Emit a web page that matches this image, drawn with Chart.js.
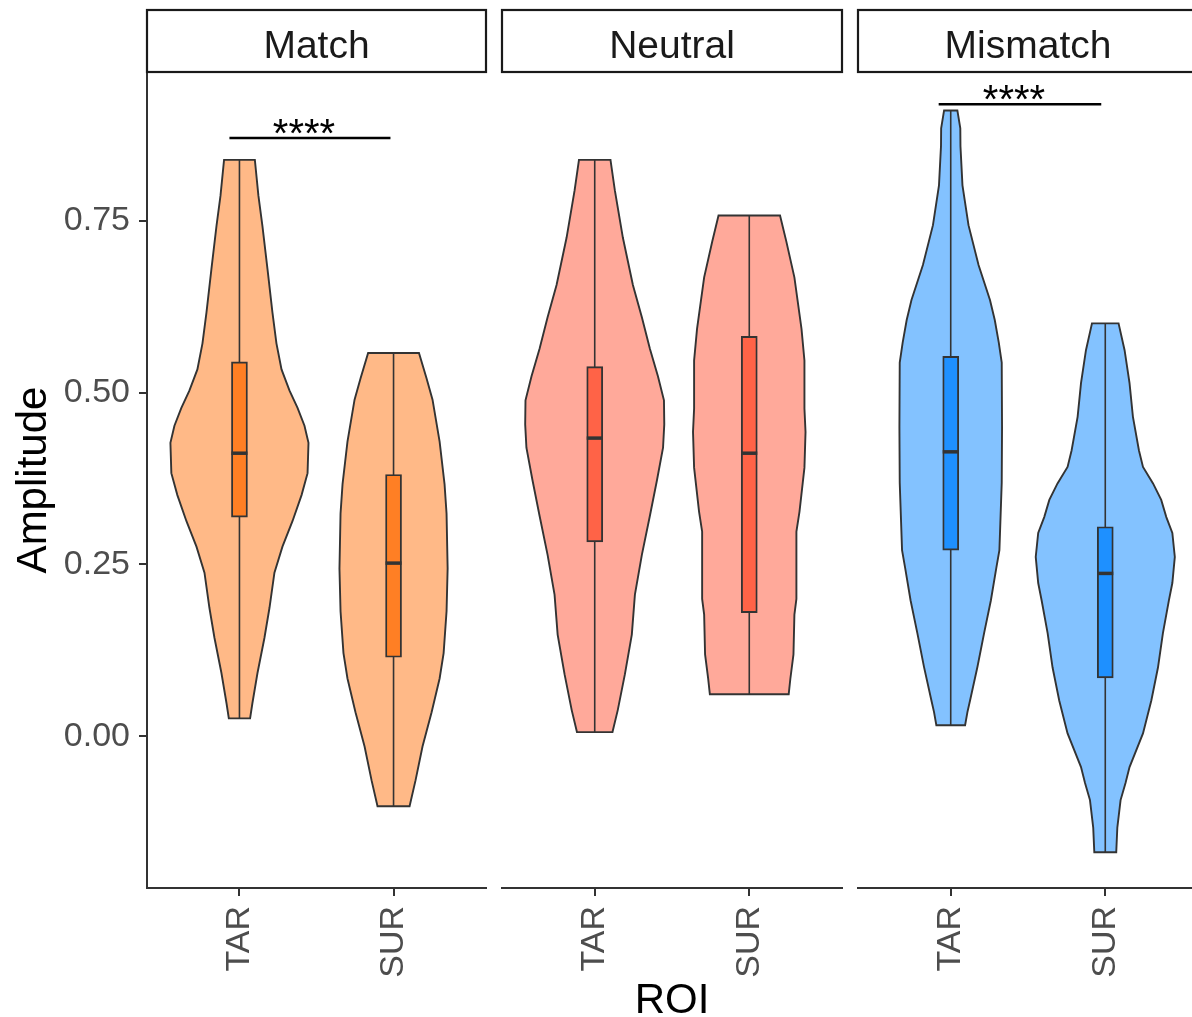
<!DOCTYPE html>
<html lang="en">
<head>
<meta charset="UTF-8">
<title>Amplitude by ROI</title>
<script src="https://cdn.jsdelivr.net/npm/chart.js"></script>
<style>
  html, body { margin: 0; padding: 0; background: #fff; }
  body { width: 1192px; height: 1017px; position: relative; overflow: hidden; }
  canvas.panel { position: absolute; top: 0; }
</style>
</head>
<body>
<canvas id="panel0" class="panel"></canvas>
<canvas id="panel1" class="panel"></canvas>
<canvas id="panel2" class="panel"></canvas>
<script>
// facets, x categories, y ticks
const conditions = ['Match', 'Neutral', 'Mismatch'];
const rois = ['TAR', 'SUR'];
const yTicks = [0, 0.25, 0.5, 0.75];

// violin outlines: amplitude levels (bottom to top) and half widths in x units
const matchTarY = [0.026, 0.048, 0.092, 0.143, 0.187, 0.238, 0.276, 0.313, 0.351, 0.383, 0.427, 0.452, 0.478, 0.503, 0.534, 0.572, 0.617, 0.680, 0.743, 0.787, 0.839];
const matchTarW = [0.069, 0.084, 0.117, 0.162, 0.195, 0.227, 0.279, 0.344, 0.403, 0.442, 0.448, 0.422, 0.377, 0.325, 0.273, 0.240, 0.214, 0.182, 0.149, 0.123, 0.100];
const matchSurY = [-0.102, -0.064, -0.015, 0.035, 0.084, 0.121, 0.182, 0.244, 0.324, 0.367, 0.429, 0.490, 0.521, 0.558];
const matchSurW = [0.104, 0.143, 0.188, 0.247, 0.299, 0.325, 0.344, 0.351, 0.344, 0.331, 0.299, 0.253, 0.214, 0.165];

const neutralTarY = [0.006, 0.038, 0.090, 0.148, 0.206, 0.264, 0.321, 0.373, 0.420, 0.454, 0.489, 0.524, 0.564, 0.610, 0.657, 0.726, 0.795, 0.839];
const neutralTarW = [0.115, 0.149, 0.195, 0.240, 0.260, 0.305, 0.357, 0.403, 0.442, 0.450, 0.448, 0.409, 0.357, 0.305, 0.247, 0.182, 0.130, 0.102];
const neutralSurY = [0.061, 0.084, 0.119, 0.177, 0.200, 0.298, 0.327, 0.391, 0.443, 0.477, 0.547, 0.593, 0.668, 0.720, 0.758];
const neutralSurW = [0.255, 0.266, 0.286, 0.292, 0.305, 0.305, 0.325, 0.357, 0.364, 0.357, 0.357, 0.338, 0.292, 0.240, 0.199];

const mismatchTarY = [0.016, 0.035, 0.052, 0.101, 0.150, 0.198, 0.245, 0.271, 0.369, 0.450, 0.544, 0.573, 0.606, 0.635, 0.686, 0.744, 0.802, 0.859, 0.885, 0.911];
const mismatchTarW = [0.093, 0.108, 0.125, 0.173, 0.216, 0.260, 0.295, 0.315, 0.330, 0.332, 0.330, 0.311, 0.285, 0.254, 0.180, 0.115, 0.076, 0.063, 0.062, 0.043];
const mismatchSurY = [-0.169, -0.133, -0.093, -0.068, -0.045, 0.004, 0.052, 0.100, 0.150, 0.198, 0.223, 0.261, 0.296, 0.319, 0.344, 0.368, 0.392, 0.416, 0.465, 0.514, 0.562, 0.601];
const mismatchSurW = [0.071, 0.078, 0.099, 0.131, 0.157, 0.244, 0.298, 0.341, 0.373, 0.412, 0.434, 0.450, 0.434, 0.395, 0.362, 0.309, 0.244, 0.218, 0.179, 0.157, 0.125, 0.086];

// box stats per condition, [TAR, SUR]
const q1 = [[0.319, 0.115], [0.283, 0.180], [0.271, 0.085]];
const medians = [[0.412, 0.252], [0.434, 0.412], [0.414, 0.237]];
const q3 = [[0.545, 0.381], [0.538, 0.582], [0.553, 0.305]];

// significance brackets
const sigPanel = [0, 2];
const sigFrom = [0.935, 0.922];
const sigTo = [1.98, 1.974];
const sigY = [0.871, 0.920];
const sigLabel = ['****', '****'];

const violinY = [[matchTarY, matchSurY], [neutralTarY, neutralSurY], [mismatchTarY, mismatchSurY]];
const violinW = [[matchTarW, matchSurW], [neutralTarW, neutralSurW], [mismatchTarW, mismatchSurW]];

const boxColors = ['#FF7F24', '#FF6347', '#1E90FF'];
const violinColors = ['#FFB987', '#FFA99A', '#83C2FF'];
const lineColor = '#333333';

Chart.defaults.font.family = '"Liberation Sans", Arial, sans-serif';

// violins + whiskers under the boxes, medians / brackets / strips on top
const facetPlugin = {
    id: 'facet',
    beforeDatasetsDraw(chart, args, opts) {
        const p = opts.index;
        const {ctx, scales: {x, y}} = chart;
        ctx.save();
        rois.forEach((roi, i) => {
            const ys = violinY[p][i], ws = violinW[p][i], cx = i + 1;
            ctx.beginPath();
            ys.forEach((v, k) => {
                const px = x.getPixelForValue(cx + ws[k]), py = y.getPixelForValue(v);
                if (k === 0) ctx.moveTo(px, py); else ctx.lineTo(px, py);
            });
            for (let k = ys.length - 1; k >= 0; k--) {
                ctx.lineTo(x.getPixelForValue(cx - ws[k]), y.getPixelForValue(ys[k]));
            }
            ctx.closePath();
            ctx.fillStyle = violinColors[p];
            ctx.fill();
            ctx.lineWidth = 1.9;
            ctx.strokeStyle = lineColor;
            ctx.stroke();
            // whisker spans the full range
            ctx.beginPath();
            ctx.lineWidth = 1.6;
            ctx.moveTo(x.getPixelForValue(cx), y.getPixelForValue(ys[0]));
            ctx.lineTo(x.getPixelForValue(cx), y.getPixelForValue(ys[ys.length - 1]));
            ctx.stroke();
        });
        ctx.restore();
    },
    afterDatasetsDraw(chart, args, opts) {
        const p = opts.index;
        const {ctx, scales: {x, y}} = chart;
        const bars = chart.getDatasetMeta(0).data;
        ctx.save();
        ctx.strokeStyle = lineColor;
        ctx.lineWidth = 3.5;
        bars.forEach((bar, i) => {
            const py = y.getPixelForValue(medians[p][i]);
            ctx.beginPath();
            ctx.moveTo(bar.x - bar.width / 2, py);
            ctx.lineTo(bar.x + bar.width / 2, py);
            ctx.stroke();
        });
        sigPanel.forEach((sp, j) => {
            if (sp !== p) return;
            const py = y.getPixelForValue(sigY[j]);
            const x1 = x.getPixelForValue(sigFrom[j]), x2 = x.getPixelForValue(sigTo[j]);
            ctx.strokeStyle = '#000';
            ctx.lineWidth = 2.5;
            ctx.beginPath();
            ctx.moveTo(x1, py);
            ctx.lineTo(x2, py);
            ctx.stroke();
            ctx.fillStyle = '#000';
            ctx.font = '40px "Liberation Sans", Arial, sans-serif';
            ctx.textAlign = 'center';
            ctx.textBaseline = 'alphabetic';
            ctx.fillText(sigLabel[j], (x1 + x2) / 2 - 6, py + 9);
        });
        ctx.restore();
    },
    afterDraw(chart, args, opts) {
        const {ctx, chartArea: {left, right, top}} = chart;
        ctx.save();
        ctx.fillStyle = '#fff';
        ctx.fillRect(left, 10, right - left, top - 10);
        ctx.strokeStyle = '#1a1a1a';
        ctx.lineWidth = 2.2;
        ctx.strokeRect(left, 10, right - left, top - 10);
        ctx.fillStyle = '#1a1a1a';
        ctx.font = '39px "Liberation Sans", Arial, sans-serif';
        ctx.textAlign = 'center';
        ctx.textBaseline = 'middle';
        ctx.fillText(conditions[opts.index], (left + right) / 2, 47);
        ctx.restore();
    }
};

const panelLeft = [0, 490, 846];
const panelWidth = [490, 356, 356];
const padLeft = [0, 12, 12];

conditions.forEach((cond, p) => {
    const canvas = document.getElementById('panel' + p);
    canvas.width = panelWidth[p];
    canvas.height = 1017;
    canvas.style.left = panelLeft[p] + 'px';
    canvas.style.width = panelWidth[p] + 'px';
    canvas.style.height = '1017px';

    new Chart(canvas.getContext('2d'), {
        type: 'bar',
        data: {
            datasets: [{
                label: cond,
                data: rois.map((r, i) => ({x: i + 1, y: [q1[p][i], q3[p][i]]})),
                backgroundColor: boxColors[p],
                borderColor: lineColor,
                borderWidth: 1.9,
                borderSkipped: false,
                barThickness: 16
            }]
        },
        options: {
            responsive: false,
            animation: false,
            layout: {padding: {left: padLeft[p], right: 4, top: 72, bottom: 0}},
            plugins: {
                legend: {display: false},
                tooltip: {enabled: false},
                facet: {index: p}
            },
            scales: {
                x: {
                    type: 'linear',
                    min: 0.4,
                    max: 2.6,
                    offset: false,
                    afterBuildTicks: s => { s.ticks = rois.map((r, i) => ({value: i + 1})); },
                    afterFit: s => { s.height = 129; },
                    grid: {display: true, drawOnChartArea: false, drawTicks: true, tickLength: 8, color: lineColor, lineWidth: 2, offset: false},
                    border: {display: true, color: lineColor, width: 2},
                    ticks: {
                        minRotation: 90,
                        maxRotation: 90,
                        padding: 10,
                        color: '#4D4D4D',
                        font: {size: 34},
                        callback: v => rois[v - 1]
                    },
                    title: {
                        display: p === 1,
                        text: 'ROI',
                        color: '#000',
                        font: {size: 42, lineHeight: 1},
                        padding: {top: 0, bottom: -5}
                    }
                },
                y: {
                    display: p === 0,
                    min: -0.221,
                    max: 0.967,
                    afterBuildTicks: s => { s.ticks = yTicks.map(v => ({value: v})); },
                    afterFit: s => { s.width = p === 0 ? 147 : 0; },
                    grid: {display: true, drawOnChartArea: false, drawTicks: true, tickLength: 8, color: lineColor, lineWidth: 2},
                    border: {display: true, color: lineColor, width: 2},
                    ticks: {
                        padding: 9,
                        color: '#4D4D4D',
                        font: {size: 34},
                        callback: v => v.toFixed(2)
                    },
                    title: {
                        display: true,
                        text: 'Amplitude',
                        color: '#000',
                        font: {size: 42, lineHeight: 1},
                        padding: {top: 13, bottom: 0}
                    }
                }
            }
        },
        plugins: [facetPlugin]
    });
});
</script>
</body>
</html>
